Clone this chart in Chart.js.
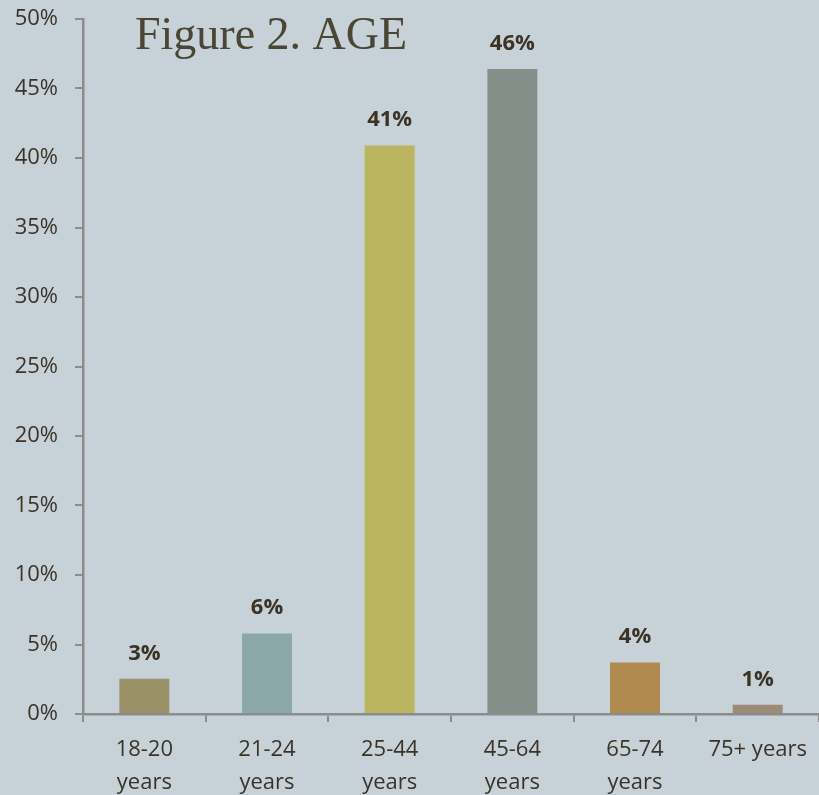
<!DOCTYPE html>
<html>
<head>
<meta charset="utf-8">
<title>Figure 2. AGE</title>
<script src="https://cdn.jsdelivr.net/npm/chart.js@4.4.1/dist/chart.umd.min.js"></script>
<style>
  html, body { margin: 0; padding: 0; background: #c6d1d8; }
  #wrap { width: 819px; height: 795px; position: relative; }
</style>
</head>
<body>
<div id="wrap"><canvas id="ageChart"></canvas></div>
<script>
// age groups and their share of respondents (%)
const ageGroups = [['18-20', 'years'], ['21-24', 'years'], ['25-44', 'years'], ['45-64', 'years'], ['65-74', 'years'], '75+ years'];
const shares = [2.54, 5.8, 40.9, 46.4, 3.71, 0.67];
const barColors = ['#9a9169', '#8ba7a7', '#bcb55f', '#858f8a', '#b08a4f', '#9e8b76'];
const yMax = 50;
const yStep = 5;

const textColor = '#3b3426';
const axisColor = '#8c8c8c';
const fontFamily = '"Open Sans", sans-serif';

// percentage labels above each bar
const valueLabels = {
  id: 'valueLabels',
  afterDatasetsDraw(chart) {
    const { ctx } = chart;
    const meta = chart.getDatasetMeta(0);
    ctx.save();
    ctx.font = 'bold 22px ' + fontFamily;
    ctx.fillStyle = textColor;
    ctx.textAlign = 'center';
    ctx.textBaseline = 'alphabetic';
    meta.data.forEach((bar, i) => {
      ctx.fillText(Math.round(shares[i]) + '%', bar.x, bar.y - 19);
    });
    ctx.restore();
  }
};

// serif heading sitting inside the plot area
const figureTitle = {
  id: 'figureTitle',
  afterDraw(chart) {
    const { ctx, chartArea } = chart;
    ctx.save();
    ctx.font = '46px "Liberation Serif", serif';
    ctx.fillStyle = '#4b4533';
    ctx.textAlign = 'left';
    ctx.textBaseline = 'alphabetic';
    ctx.fillText('Figure 2. AGE', chartArea.left + 52, chartArea.top + 30);
    ctx.restore();
  }
};

new Chart(document.getElementById('ageChart'), {
  type: 'bar',
  data: {
    labels: ageGroups,
    datasets: [{
      data: shares,
      backgroundColor: barColors,
      borderWidth: 0,
      categoryPercentage: 1,
      barPercentage: 0.407
    }]
  },
  options: {
    responsive: true,
    maintainAspectRatio: false,
    animation: false,
    layout: { padding: 0 },
    plugins: {
      legend: { display: false },
      tooltip: { enabled: false },
      title: { display: false }
    },
    scales: {
      x: {
        grid: { drawOnChartArea: false, drawTicks: true, tickLength: 8, color: axisColor, lineWidth: 2, offset: true },
        border: { color: axisColor, width: 2.5 },
        ticks: { color: textColor, font: { family: fontFamily, size: 22, lineHeight: 1.5 }, padding: 11, maxRotation: 0, autoSkip: false },
        afterFit(scale) { scale.height = 81; }
      },
      y: {
        min: 0,
        max: yMax,
        grid: { drawOnChartArea: false, drawTicks: true, tickLength: 8, color: axisColor, lineWidth: 2 },
        border: { color: axisColor, width: 2.5 },
        ticks: {
          stepSize: yStep,
          color: textColor,
          font: { family: fontFamily, size: 22, lineHeight: 1 },
          padding: 17,
          callback: v => v + '%'
        },
        afterFit(scale) {
          scale.width = 83;
          scale.paddingTop = 19;
        }
      }
    }
  },
  plugins: [valueLabels, figureTitle]
});
</script>
</body>
</html>
